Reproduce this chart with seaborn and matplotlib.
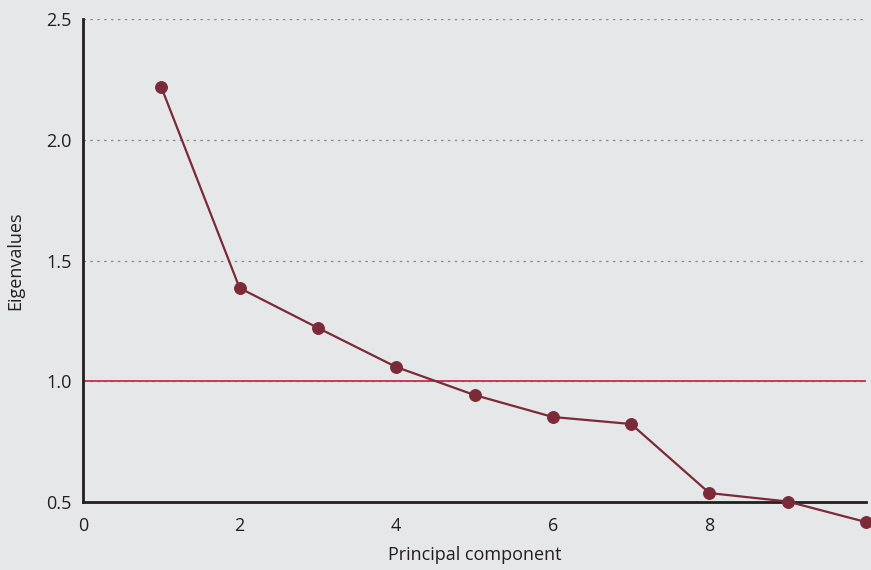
import matplotlib
matplotlib.use("Agg")
import matplotlib.pyplot as plt
import seaborn as sns
import pandas as pd

components = [1, 2, 3, 4, 5, 6, 7, 8, 9, 10]
eigenvalues = [2.218, 1.386, 1.221, 1.059, 0.943, 0.852, 0.823, 0.537, 0.502, 0.417]
x_ticks = [0, 2, 4, 6, 8, 10]
x_tick_labels = ["0", "2", "4", "6", "8", ""]
y_ticks = [0.5, 1.0, 1.5, 2.0, 2.5]
y_tick_labels = ["0.5", "1.0", "1.5", "2.0", "2.5"]
kaiser_cutoff = 1.0

bg = "#e6e7e9"
line_color = "#7b2a38"
cutoff_color = "#c4304c"

sns.set_theme(style="white")
plt.rcParams["font.family"] = ["Open Sans", "DejaVu Sans"]

df = pd.DataFrame({"component": components, "eigenvalue": eigenvalues})

fig = plt.figure(figsize=(8.71, 5.70), dpi=100, facecolor=bg)
ax = fig.add_axes([83 / 871, 1 - 502 / 570, (866 - 83) / 871, (502 - 19) / 570])
ax.set_facecolor(bg)

# dotted reference grid
for y in y_ticks[1:]:
    ax.axhline(y, color="#8a8a8a", lw=0.9, ls=(0, (2, 3.5)), zorder=1)

ax.axhline(kaiser_cutoff, color=cutoff_color, lw=1.3, zorder=2)

sns.lineplot(data=df, x="component", y="eigenvalue", ax=ax, color=line_color,
             lw=1.6, marker="o", markersize=8.5, markeredgecolor=line_color,
             clip_on=False, zorder=5)

ax.set_xlim(0, 10)
ax.set_ylim(0.5, 2.5)
ax.set_xticks(x_ticks)
ax.set_xticklabels(x_tick_labels)
ax.set_yticks(y_ticks)
ax.set_yticklabels(y_tick_labels)

for side in ["top", "right"]:
    ax.spines[side].set_visible(False)
for side in ["left", "bottom"]:
    ax.spines[side].set_color("#231f20")
    ax.spines[side].set_linewidth(2)
    ax.spines[side].set_zorder(4)

ax.tick_params(axis="both", which="major", direction="out", length=5, width=2,
               color="#231f20", labelsize=13, labelcolor="#231f20", pad=3)
ax.tick_params(axis="x", pad=6)

ax.set_xlabel("Principal component", fontsize=13, color="#231f20", labelpad=8)
ax.set_ylabel("Eigenvalues", fontsize=13, color="#231f20", labelpad=16)

fig.savefig("out.png", dpi=100, facecolor=bg)
